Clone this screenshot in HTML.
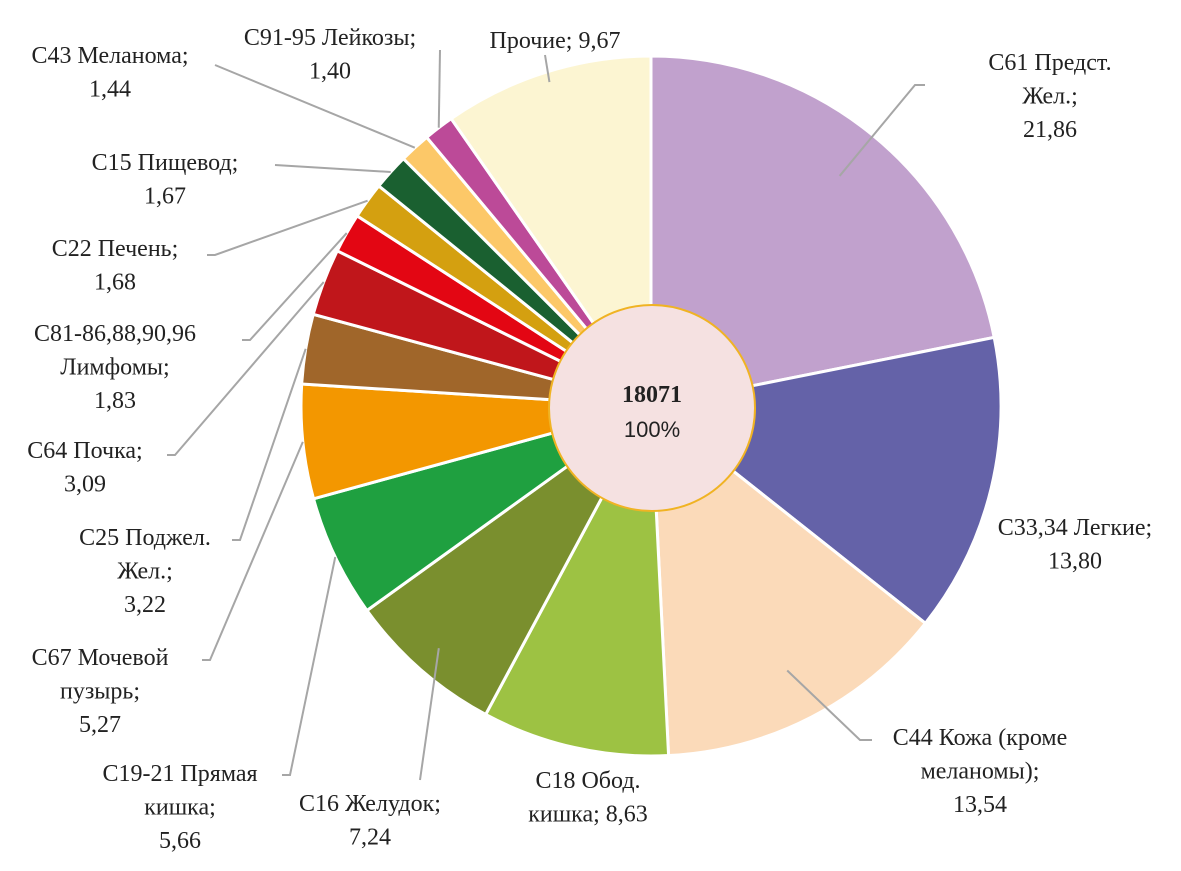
<!DOCTYPE html>
<html><head><meta charset="utf-8">
<style>
html,body{margin:0;padding:0;background:#fff;}
svg text{font-family:"Liberation Serif",serif;font-size:24px;fill:#222;}
</style></head>
<body>
<svg id="chart" width="1181" height="866" viewBox="0 0 1181 866" xmlns="http://www.w3.org/2000/svg">
<g id="slices"></g>
<g id="leaders"></g>
<g id="labels"></g>
<circle cx="652" cy="408" r="103" fill="#f5e1e1" stroke="#f0b323" stroke-width="2"/>
<text x="652" y="402" text-anchor="middle" font-weight="bold">18071</text>
<text x="652" y="437" text-anchor="middle" style="font-family:'Liberation Sans',sans-serif;font-size:22px">100%</text>
</svg>
<script>
const categories = ["C61 Предст. Жел.","C33,34 Легкие","C44 Кожа (кроме меланомы)","C18 Обод. кишка","C16 Желудок","C19-21 Прямая кишка","C67 Мочевой пузырь","C25 Поджел. Жел.","C64 Почка","C81-86,88,90,96 Лимфомы","C22 Печень","C15 Пищевод","C43 Меланома","C91-95 Лейкозы","Прочие"];
const values = [21.86,13.80,13.54,8.63,7.24,5.66,5.27,3.22,3.09,1.83,1.68,1.67,1.44,1.40,9.67];
const valueLabels = ["21,86","13,80","13,54","8,63","7,24","5,66","5,27","3,22","3,09","1,83","1,68","1,67","1,44","1,40","9,67"];
const colors = ["#c1a1cd","#6462a8","#fbdab9","#9dc243","#7a8f2e","#1fa040","#f39700","#a0662a","#c0161b","#e30613","#d4a010","#1a6030","#fcc868","#bc4a98","#fcf5d2"];
const labelLines = [
 ["C61 Предст.","Жел.;","21,86"],["C33,34 Легкие;","13,80"],["C44 Кожа (кроме","меланомы);","13,54"],
 ["C18 Обод.","кишка; 8,63"],["C16 Желудок;","7,24"],["C19-21 Прямая","кишка;","5,66"],
 ["C67 Мочевой","пузырь;","5,27"],["C25 Поджел.","Жел.;","3,22"],["C64 Почка;","3,09"],
 ["C81-86,88,90,96","Лимфомы;","1,83"],["C22 Печень;","1,68"],["C15 Пищевод;","1,67"],
 ["C43 Меланома;","1,44"],["C91-95 Лейкозы;","1,40"],["Прочие; 9,67"]];
const labelPos = [[1050,70],[1075,535],[980,745],[588,788],[370,811],[180,781],[100,665],[145,545],[85,458],[115,341],[115,256],[165,170],[110,63],[330,45],[555,48]];
const leaders = [[[915,85],[925,85]],null,[[860,740],[872,740]],null,[[420,780]],[[290,775],[282,775]],[[210,660],[202,660]],[[240,540],[232,540]],[[175,455],[167,455]],[[250,340],[242,340]],[[215,255],[207,255]],[[275,165]],[[215,65]],[[440,50]],[[545,55]]];
const leaderStart = [0.85,1,0.85,1,0.92,1.0,1.0,1.0,1.0,1.0,1.0,1.0,1.0,1.0,0.97];

const cx=651, cy=406, R=350, NS="http://www.w3.org/2000/svg";
const total = values.reduce((a,b)=>a+b,0);
const gS=document.getElementById('slices'), gL=document.getElementById('leaders'), gT=document.getElementById('labels');
function pt(a,r){return [cx+r*Math.sin(a), cy-r*Math.cos(a)];}
let acc=0;
values.forEach((v,i)=>{
  const a0=acc/total*2*Math.PI; acc+=v; const a1=acc/total*2*Math.PI;
  const p0=pt(a0,R), p1=pt(a1,R);
  const path=document.createElementNS(NS,'path');
  path.setAttribute('d',`M${cx},${cy} L${p0[0]},${p0[1]} A${R},${R} 0 ${a1-a0>Math.PI?1:0} 1 ${p1[0]},${p1[1]} Z`);
  path.setAttribute('fill',colors[i]); path.setAttribute('stroke','#fff'); path.setAttribute('stroke-width','3');
  
  
  gS.appendChild(path);
  if(leaders[i]){
    const s=pt((a0+a1)/2, R*leaderStart[i]);
    const pts=[s].concat(leaders[i]);
    const pl=document.createElementNS(NS,'polyline');
    pl.setAttribute('points',pts.map(p=>p.join(',')).join(' '));
    pl.setAttribute('fill','none'); pl.setAttribute('stroke','#a6a6a6'); pl.setAttribute('stroke-width','2');
    
    
    gL.appendChild(pl);
  }
  const t=document.createElementNS(NS,'text');
  t.setAttribute('text-anchor','middle');
  
  
  labelLines[i].forEach((ln,k)=>{
    const ts=document.createElementNS(NS,'tspan');
    ts.setAttribute('x',labelPos[i][0]); ts.setAttribute('y',labelPos[i][1]+k*33.5);
    ts.textContent = ln;
    t.appendChild(ts);
  });
  gT.appendChild(t);
});
</script>
</body></html>
